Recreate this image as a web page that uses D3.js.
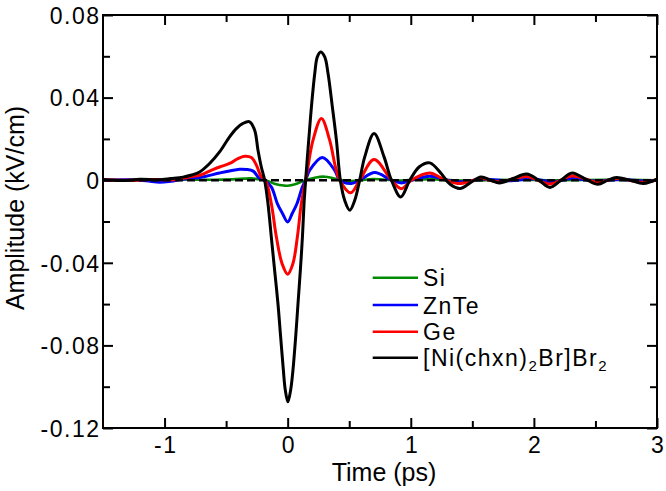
<!DOCTYPE html>
<html><head><meta charset="utf-8">
<script src="https://cdn.jsdelivr.net/npm/d3@7"></script>
<style>body{margin:0;background:#fff} svg{display:block}</style>
</head><body>
<svg id="chart" width="666" height="491"></svg>
<script>
// ---- data (time in ps, amplitude in kV/cm) ----
const siTime = [-1.5,-1.2,-0.9,-0.6,-0.45,-0.3,-0.24,-0.18,-0.1,-0.03,0.0,0.06,0.146,0.22,0.3,0.38,0.45,0.52,0.7,0.9,1.15,1.4,1.8,2.2,2.6,3.0];
const siAmp  = [0.0002,0.0,0.0003,0.0002,0.0004,0.0009,0.0005,0,-0.0018,-0.0026,-0.0027,-0.002,0,0.0012,0.0017,0.0008,0.0,-0.0004,0.0006,-0.0002,0.0005,-0.0002,0.0002,0.0,0.0002,0.0];

const znteTime = [-1.5,-1.3,-1.15,-1.04,-0.95,-0.85,-0.715,-0.553,-0.472,-0.39,-0.336,-0.28,-0.228,-0.19,-0.133,-0.084,-0.043,0.0,0.038,0.076,0.12,0.146,0.179,0.282,0.382,0.423,0.518,0.585,0.707,0.843,0.924,1.005,1.155,1.3,1.4,1.6,1.8,2.0,2.15,2.31,2.5,2.7,2.9,3.0];
const znteAmp  = [0.0,0.0002,-0.0003,-0.001,-0.0005,0.0005,0.0013,0.0035,0.0045,0.0053,0.0052,0.0044,0.0008,0,-0.0032,-0.0113,-0.016,-0.0202,-0.016,-0.0113,-0.0032,0,0.0048,0.011,0.0048,0,-0.0016,0,0.0037,0,-0.0013,0,0.0019,0.0,-0.0008,0.0005,-0.0003,0.0006,-0.0008,0.0008,-0.0004,0.0003,-0.0004,0.0];

const geTime = [-1.5,-1.3,-1.1,-0.95,-0.878,-0.78,-0.715,-0.634,-0.553,-0.472,-0.404,-0.35,-0.295,-0.254,-0.214,-0.18,-0.133,-0.092,-0.046,0.0,0.043,0.079,0.111,0.146,0.165,0.206,0.274,0.341,0.388,0.423,0.512,0.585,0.702,0.843,0.924,1.005,1.155,1.25,1.38,1.5,1.57,1.72,1.94,2.13,2.31,2.52,2.67,2.89,3.0];
const geAmp  = [0.0002,0.0,0.0003,0.0002,0.0005,0.0018,0.0024,0.0044,0.0064,0.0081,0.0105,0.0116,0.011,0.0073,0.0016,0,-0.0113,-0.0274,-0.0403,-0.0455,-0.0403,-0.0274,-0.0113,0,0.0065,0.0194,0.0299,0.0194,0.0065,0,-0.0061,0,0.010,0,-0.0041,0,0.0035,0.001,-0.0016,-0.0003,0.0008,-0.0008,0.0018,-0.0018,0.002,-0.001,0.0008,-0.001,0.0003];

const niTime = [-1.5,-1.35,-1.2,-1.05,-0.95,-0.85,-0.78,-0.715,-0.634,-0.553,-0.472,-0.417,-0.363,-0.309,-0.268,-0.241,-0.214,-0.187,-0.16,-0.133,-0.106,-0.079,-0.057,-0.035,-0.019,0.002,0.024,0.043,0.065,0.084,0.103,0.12,0.133,0.146,0.171,0.193,0.22,0.241,0.268,0.301,0.328,0.363,0.396,0.428,0.463,0.504,0.545,0.585,0.626,0.702,0.783,0.843,0.919,0.992,1.07,1.155,1.25,1.32,1.4,1.49,1.57,1.65,1.72,1.83,1.94,2.04,2.13,2.22,2.31,2.42,2.52,2.6,2.67,2.78,2.89,3.0];
const niAmp  = [0.0003,-0.0002,0.0004,0.0002,0.0008,0.0015,0.0025,0.004,0.0081,0.0137,0.021,0.025,0.0275,0.0283,0.0242,0.0145,0.0064,0.0,-0.0113,-0.0274,-0.0436,-0.0597,-0.0759,-0.092,-0.1017,-0.1073,-0.1017,-0.092,-0.0759,-0.0597,-0.0436,-0.0274,-0.0113,0,0.0194,0.0355,0.0517,0.0597,0.0621,0.0597,0.0517,0.0355,0.0194,0,-0.0097,-0.0145,-0.0097,0,0.0113,0.0226,0.0113,0,-0.0081,0,0.0065,0.0084,0.003,-0.002,-0.004,-0.001,0.0016,0.0,-0.0013,0.0008,0.003,0.0,-0.0035,0.0,0.0035,0.0005,-0.002,0.0,0.0013,0.0,-0.0016,0.0005];

const seriesNames = ["Si","ZnTe","Ge","[Ni(chxn)2Br]Br2"];
const seriesColors = ["#008a00","#0000ff","#ff0000","#000000"];

const xMajorTicks = [-1,0,1,2,3];
const xTickLabels = ["-1","0","1","2","3"];
const xMinorTicks = [-0.5,0.5,1.5,2.5];
const yMajorTicks = [0.08,0.04,0,-0.04,-0.08,-0.12];
const yTickLabels = ["0.08","0.04","0","-0.04","-0.08","-0.12"];
const yMinorTicks = [0.06,0.02,-0.02,-0.06,-0.10];

// ---- layout ----
const L = 103, R = 657, T = 15, B = 428;
const svg = d3.select("#chart");
const font = "'Liberation Sans', Arial, Helvetica, sans-serif";

const x = d3.scaleLinear().domain([-1.5,3]).range([L,R]);
const y = d3.scaleLinear().domain([-0.12,0.08]).range([B,T]);

function styleAxis(g){
  g.select(".domain").remove();
  g.selectAll(".tick line").attr("stroke","#000").attr("stroke-width",2);
}

// minor ticks
svg.append("g").attr("transform",`translate(0,${B})`).call(d3.axisBottom(x).tickValues(xMinorTicks).tickSize(-7).tickFormat("")).call(styleAxis);
svg.append("g").attr("transform",`translate(0,${T})`).call(d3.axisTop(x).tickValues(xMinorTicks).tickSize(-7).tickFormat("")).call(styleAxis);
svg.append("g").attr("transform",`translate(${L},0)`).call(d3.axisLeft(y).tickValues(yMinorTicks).tickSize(-7).tickFormat("")).call(styleAxis);
svg.append("g").attr("transform",`translate(${R},0)`).call(d3.axisRight(y).tickValues(yMinorTicks).tickSize(-7).tickFormat("")).call(styleAxis);

// major ticks
const xb = svg.append("g").attr("transform",`translate(0,${B})`)
  .call(d3.axisBottom(x).tickValues(xMajorTicks).tickSize(-10).tickFormat((d,i)=>xTickLabels[i])).call(styleAxis);
xb.selectAll(".tick text").attr("y",25).attr("dy",0).attr("dx",0.75)
  .attr("font-family",font).attr("font-size",23).attr("letter-spacing","1.5px").attr("fill","#000");
svg.append("g").attr("transform",`translate(0,${T})`).call(d3.axisTop(x).tickValues(xMajorTicks).tickSize(-10).tickFormat("")).call(styleAxis);
const yl = svg.append("g").attr("transform",`translate(${L},0)`)
  .call(d3.axisLeft(y).tickValues(yMajorTicks).tickSize(-10).tickFormat((d,i)=>yTickLabels[i])).call(styleAxis);
yl.selectAll(".tick text").attr("x",-2.5).attr("dy","0.36em")
  .attr("font-family",font).attr("font-size",23).attr("letter-spacing","1.5px").attr("fill","#000");
svg.append("g").attr("transform",`translate(${R},0)`).call(d3.axisRight(y).tickValues(yMajorTicks).tickSize(-10).tickFormat("")).call(styleAxis);

// series
const line = d3.line().x(d=>x(d[0])).y(d=>y(d[1])).curve(d3.curveCatmullRom.alpha(0.5));
const series = [
  {t:siTime,v:siAmp,w:2.6},
  {t:znteTime,v:znteAmp,w:3},
  {t:geTime,v:geAmp,w:3},
  {t:niTime,v:niAmp,w:3}
];
series.forEach((s,i)=>{
  svg.append("path").datum(s.t.map((t,j)=>[t,s.v[j]]))
    .attr("d",line).attr("fill","none").attr("stroke",seriesColors[i])
    .attr("stroke-width",s.w).attr("stroke-linejoin","round");
});

// zero dashed line
svg.append("line").attr("x1",L).attr("x2",R).attr("y1",y(0)).attr("y2",y(0))
  .attr("stroke","#000").attr("stroke-width",2.5).attr("stroke-dasharray","8,4");

// frame
svg.append("rect").attr("x",L).attr("y",T).attr("width",R-L).attr("height",B-T)
  .attr("fill","none").attr("stroke","#000").attr("stroke-width",2);

// legend
const legRows = [277.7,305,331.7,357.7];
seriesNames.forEach((name,i)=>{
  svg.append("line").attr("x1",372.7).attr("x2",418).attr("y1",legRows[i]).attr("y2",legRows[i])
    .attr("stroke",seriesColors[i]).attr("stroke-width",2.5);
  const txt = svg.append("text").attr("x",423).attr("y",legRows[i]+8.5)
    .attr("font-family",font).attr("font-size",23).attr("letter-spacing","1.5px").attr("fill","#000");
  if (i===3){
    txt.append("tspan").text("[Ni(chxn)");
    txt.append("tspan").attr("font-size",15).attr("dy",5).text("2");
    txt.append("tspan").attr("dy",-5).text("Br]Br");
    txt.append("tspan").attr("font-size",15).attr("dy",5).text("2");
  } else {
    txt.text(name);
  }
});

// axis titles
svg.append("text").attr("x",384).attr("y",481).attr("text-anchor","middle")
  .attr("font-family",font).attr("font-size",25).attr("fill","#000").text("Time (ps)");
svg.append("text").attr("transform","translate(24,208) rotate(-90)").attr("text-anchor","middle")
  .attr("font-family",font).attr("font-size",25).attr("fill","#000").text("Amplitude (kV/cm)");
</script>
</body></html>
